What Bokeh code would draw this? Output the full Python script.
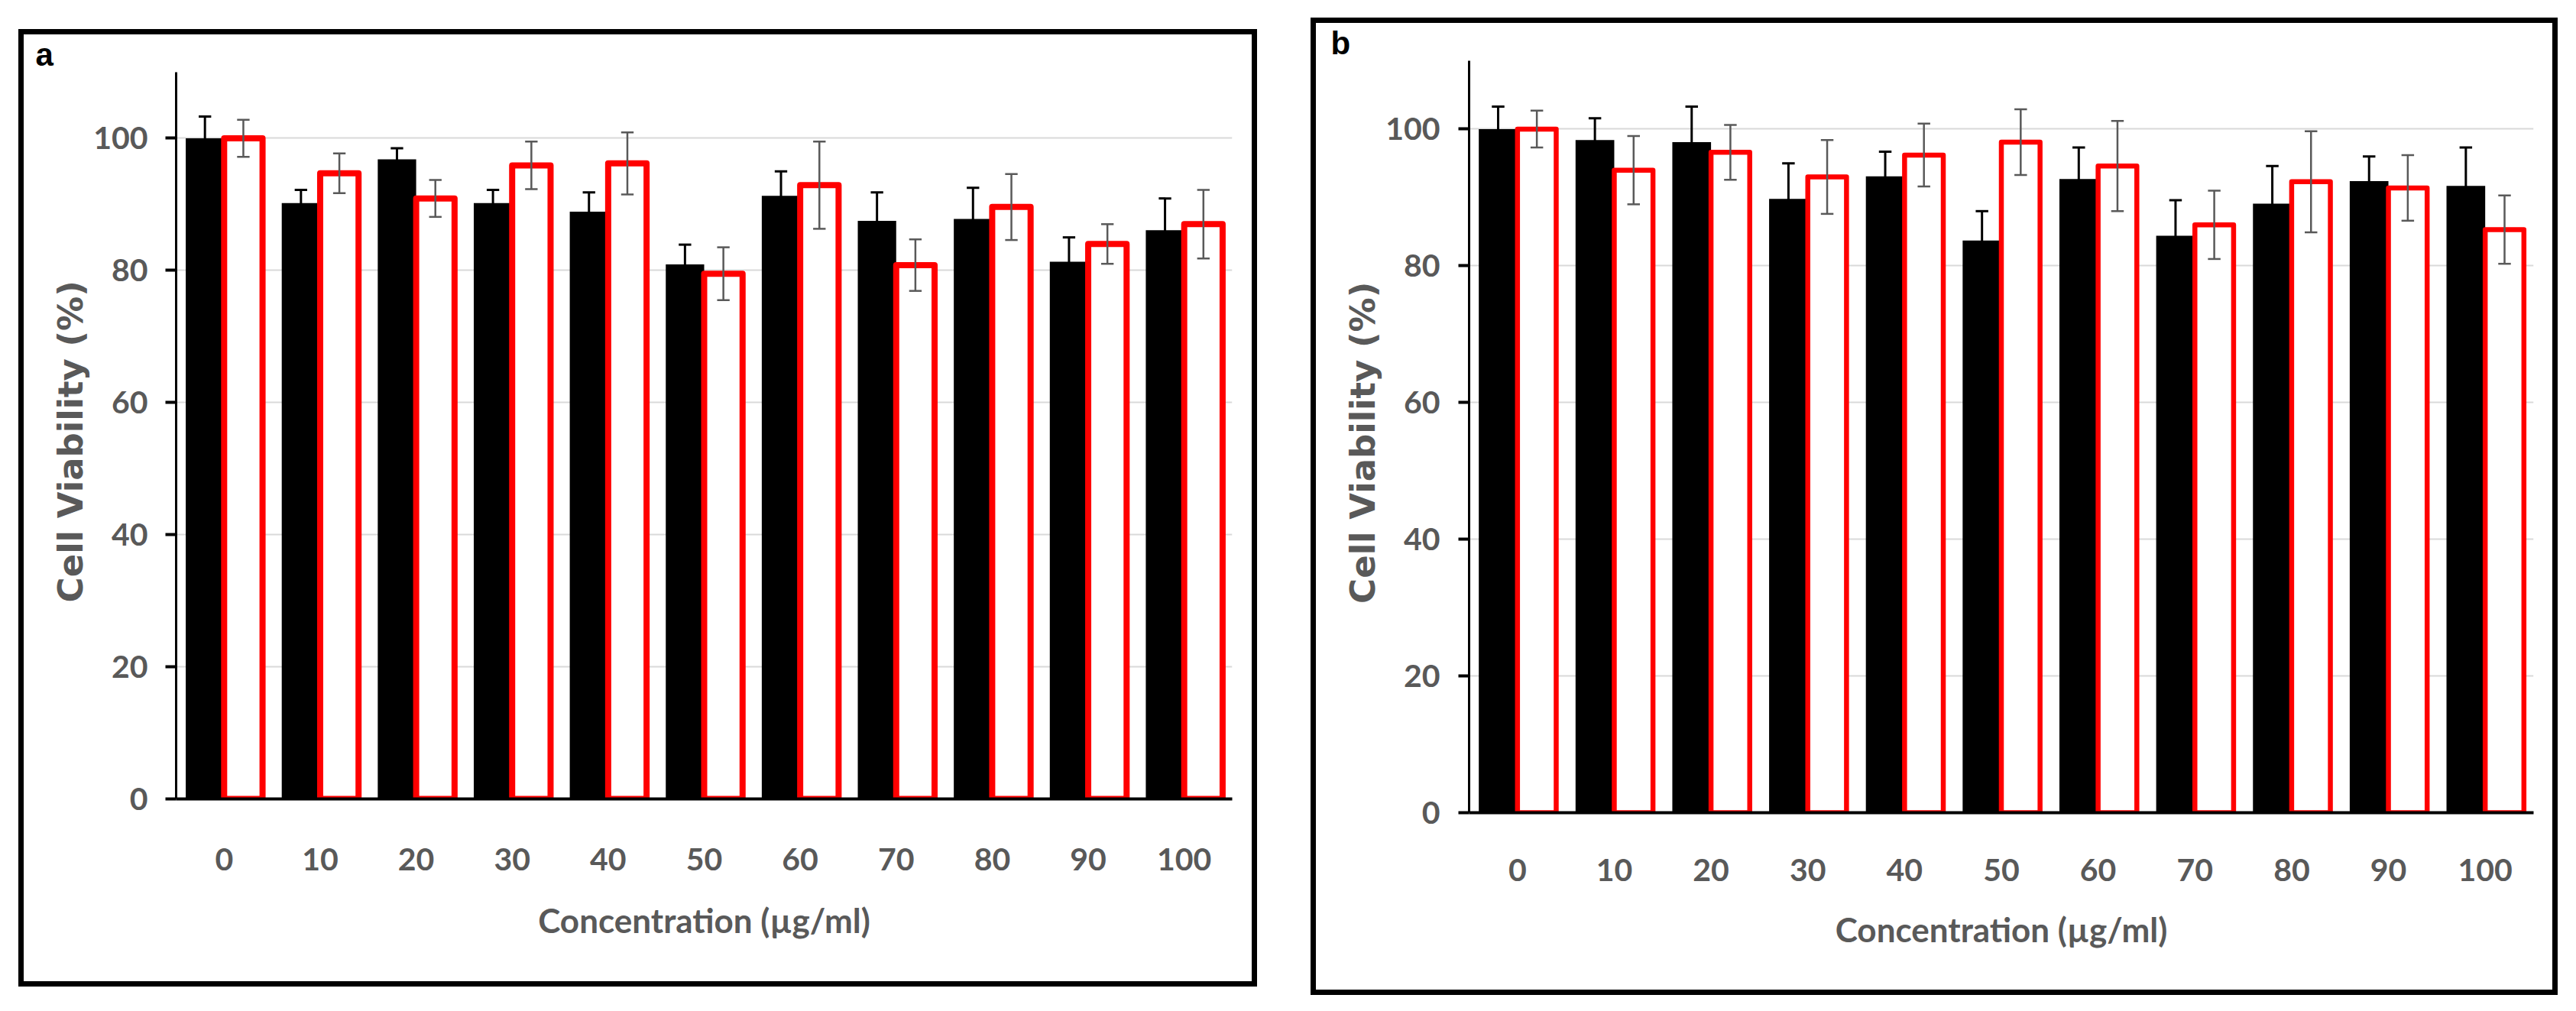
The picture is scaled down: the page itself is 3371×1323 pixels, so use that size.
from bokeh.plotting import figure
from bokeh.models import FactorRange, Range1d, FixedTicker, ColumnDataSource, Spacer
from bokeh.transform import dodge
from bokeh.layouts import row, column
from bokeh.embed import file_html
from bokeh.resources import INLINE

concentrations = ["0", "10", "20", "30", "40", "50", "60", "70", "80", "90", "100"]

a_black = [100.0, 90.2, 96.8, 90.2, 88.9, 80.9, 91.3, 87.5, 87.8, 81.3, 86.1]
a_black_err = [3.3, 2.0, 1.7, 2.0, 2.9, 3.0, 3.7, 4.3, 4.7, 3.7, 4.8]
a_red = [100.0, 94.7, 90.9, 95.9, 96.2, 79.5, 92.9, 80.8, 89.6, 84.0, 87.0]
a_red_err = [2.8, 3.0, 2.8, 3.6, 4.7, 4.0, 6.6, 3.9, 5.0, 3.0, 5.2]

b_black = [100.0, 98.4, 98.1, 89.8, 93.1, 83.7, 92.7, 84.4, 89.1, 92.4, 91.7]
b_black_err = [3.3, 3.2, 5.2, 5.2, 3.6, 4.3, 4.6, 5.2, 5.5, 3.6, 5.6]
b_red = [100.0, 94.0, 96.6, 93.0, 96.2, 98.1, 94.6, 86.0, 92.3, 91.4, 85.3]
b_red_err = [2.7, 5.0, 4.0, 5.4, 4.6, 4.8, 6.6, 5.0, 7.4, 4.8, 5.0]

y_ticks = [0, 20, 40, 60, 80, 100]
x_title = "Concentration (µg/ml)"
y_title = "Cell Viability  (%)"

TICK_FONT = "Lato"
YLAB_FONT = "DejaVu Sans"
GRAY = "#595959"


def make_panel(letter, black, black_err, red, red_err, g):
    src = ColumnDataSource(dict(
        cat=concentrations,
        black=black,
        black_hi=[v + e for v, e in zip(black, black_err)],
        black_lo=[v - e for v, e in zip(black, black_err)],
        red=red,
        red_hi=[v + e for v, e in zip(red, red_err)],
        red_lo=[v - e for v, e in zip(red, red_err)],
    ))
    p = figure(x_range=FactorRange(factors=concentrations), y_range=Range1d(0, 110),
               width=g["w"], height=g["h"],
               min_border_left=g["bl"], min_border_right=g["br"],
               min_border_top=g["bt"], min_border_bottom=g["bb"],
               output_backend="svg", toolbar_location=None,
               background_fill_color="white", border_fill_color="white")
    p.styles = {"outline": "7px solid black", "outline-offset": "0px"}
    p.outline_line_color = None
    p.xgrid.visible = False
    p.ygrid.grid_line_color = "#d9d9d9"
    p.ygrid.grid_line_width = 2
    p.yaxis.ticker = FixedTicker(ticks=y_ticks)

    xr = p.x_range
    off = 0.2
    cap = 0.065
    p.vbar(x=dodge("cat", -off, range=xr), top="black", width=0.4, source=src,
           fill_color="black", line_color=None)
    p.vbar(x=dodge("cat", off, range=xr), top="red", width=0.4, source=src,
           fill_color="white", line_color="#ff0000", line_width=g["rlw"], line_join="round")

    # error bars
    p.segment(x0=dodge("cat", -off, range=xr), x1=dodge("cat", -off, range=xr),
              y0="black_lo", y1="black_hi", source=src, line_color="black", line_width=3)
    p.segment(x0=dodge("cat", -off - cap, range=xr), x1=dodge("cat", -off + cap, range=xr),
              y0="black_hi", y1="black_hi", source=src, line_color="black", line_width=3)
    p.segment(x0=dodge("cat", off, range=xr), x1=dodge("cat", off, range=xr),
              y0="red_lo", y1="red_hi", source=src, line_color=GRAY, line_width=2.5)
    for col in ("red_hi", "red_lo"):
        p.segment(x0=dodge("cat", off - cap, range=xr), x1=dodge("cat", off + cap, range=xr),
                  y0=col, y1=col, source=src, line_color=GRAY, line_width=2.5)

    # panel letter
    p.title.text = letter
    p.title.text_font = "Liberation Sans"
    p.title.text_font_style = "bold"
    p.title.text_font_size = "42px"
    p.title.text_color = "black"
    p.title.align = "left"
    p.title.offset = g["toff"]
    p.title.standoff = 0
    p.title.vertical_align = "bottom"

    # axes
    for ax in (p.xaxis[0], p.yaxis[0]):
        ax.axis_line_color = "black"
        ax.major_label_text_font = TICK_FONT
        ax.major_label_text_font_style = "bold"
        ax.major_label_text_font_size = "41px"
        ax.major_label_text_color = GRAY
        ax.minor_tick_line_color = None
        ax.axis_label_text_color = GRAY
        ax.axis_label_text_font_style = "bold"
    p.xaxis.axis_line_width = 4
    p.xaxis.major_tick_line_color = None
    p.xaxis.major_tick_out = 0
    p.xaxis.major_label_standoff = g["xstand"]
    p.xaxis.axis_label = x_title
    p.xaxis.axis_label_text_font = TICK_FONT
    p.xaxis.axis_label_text_font_size = "44px"
    p.xaxis.axis_label_standoff = g["xlstand"]

    p.yaxis.axis_line_width = 3
    p.yaxis.major_tick_out = 14
    p.yaxis.major_tick_in = 0
    p.yaxis.major_tick_line_width = 4
    p.yaxis.major_tick_line_color = "black"
    p.yaxis.major_label_standoff = g["ystand"]
    p.yaxis.axis_label = y_title
    p.yaxis.axis_label_text_font = YLAB_FONT
    p.yaxis.axis_label_text_font_size = "45px"
    p.yaxis.axis_label_standoff = g["ylstand"]
    return p


# canvas = inside of each panel's black frame; the frame is drawn as a CSS outline
ga = dict(w=1607, h=1239, bl=199, br=26, bt=49, bb=239, rlw=8,
          xstand=64, xlstand=36, ystand=23, ylstand=0, toff=-184)
gb = dict(w=1618, h=1265, bl=200, br=25, bt=47, bb=232, rlw=6.5,
          xstand=60, xlstand=34, ystand=24, ylstand=0, toff=-181)

pa = make_panel("a", a_black, a_black_err, a_red, a_red_err, ga)
pb = make_panel("b", b_black, b_black_err, b_red, b_red_err, gb)

layout = row(Spacer(width=31), column(Spacer(height=45), pa),
             Spacer(width=84), column(Spacer(height=30), pb))
open("out.html", "w").write(file_html(layout, INLINE))
